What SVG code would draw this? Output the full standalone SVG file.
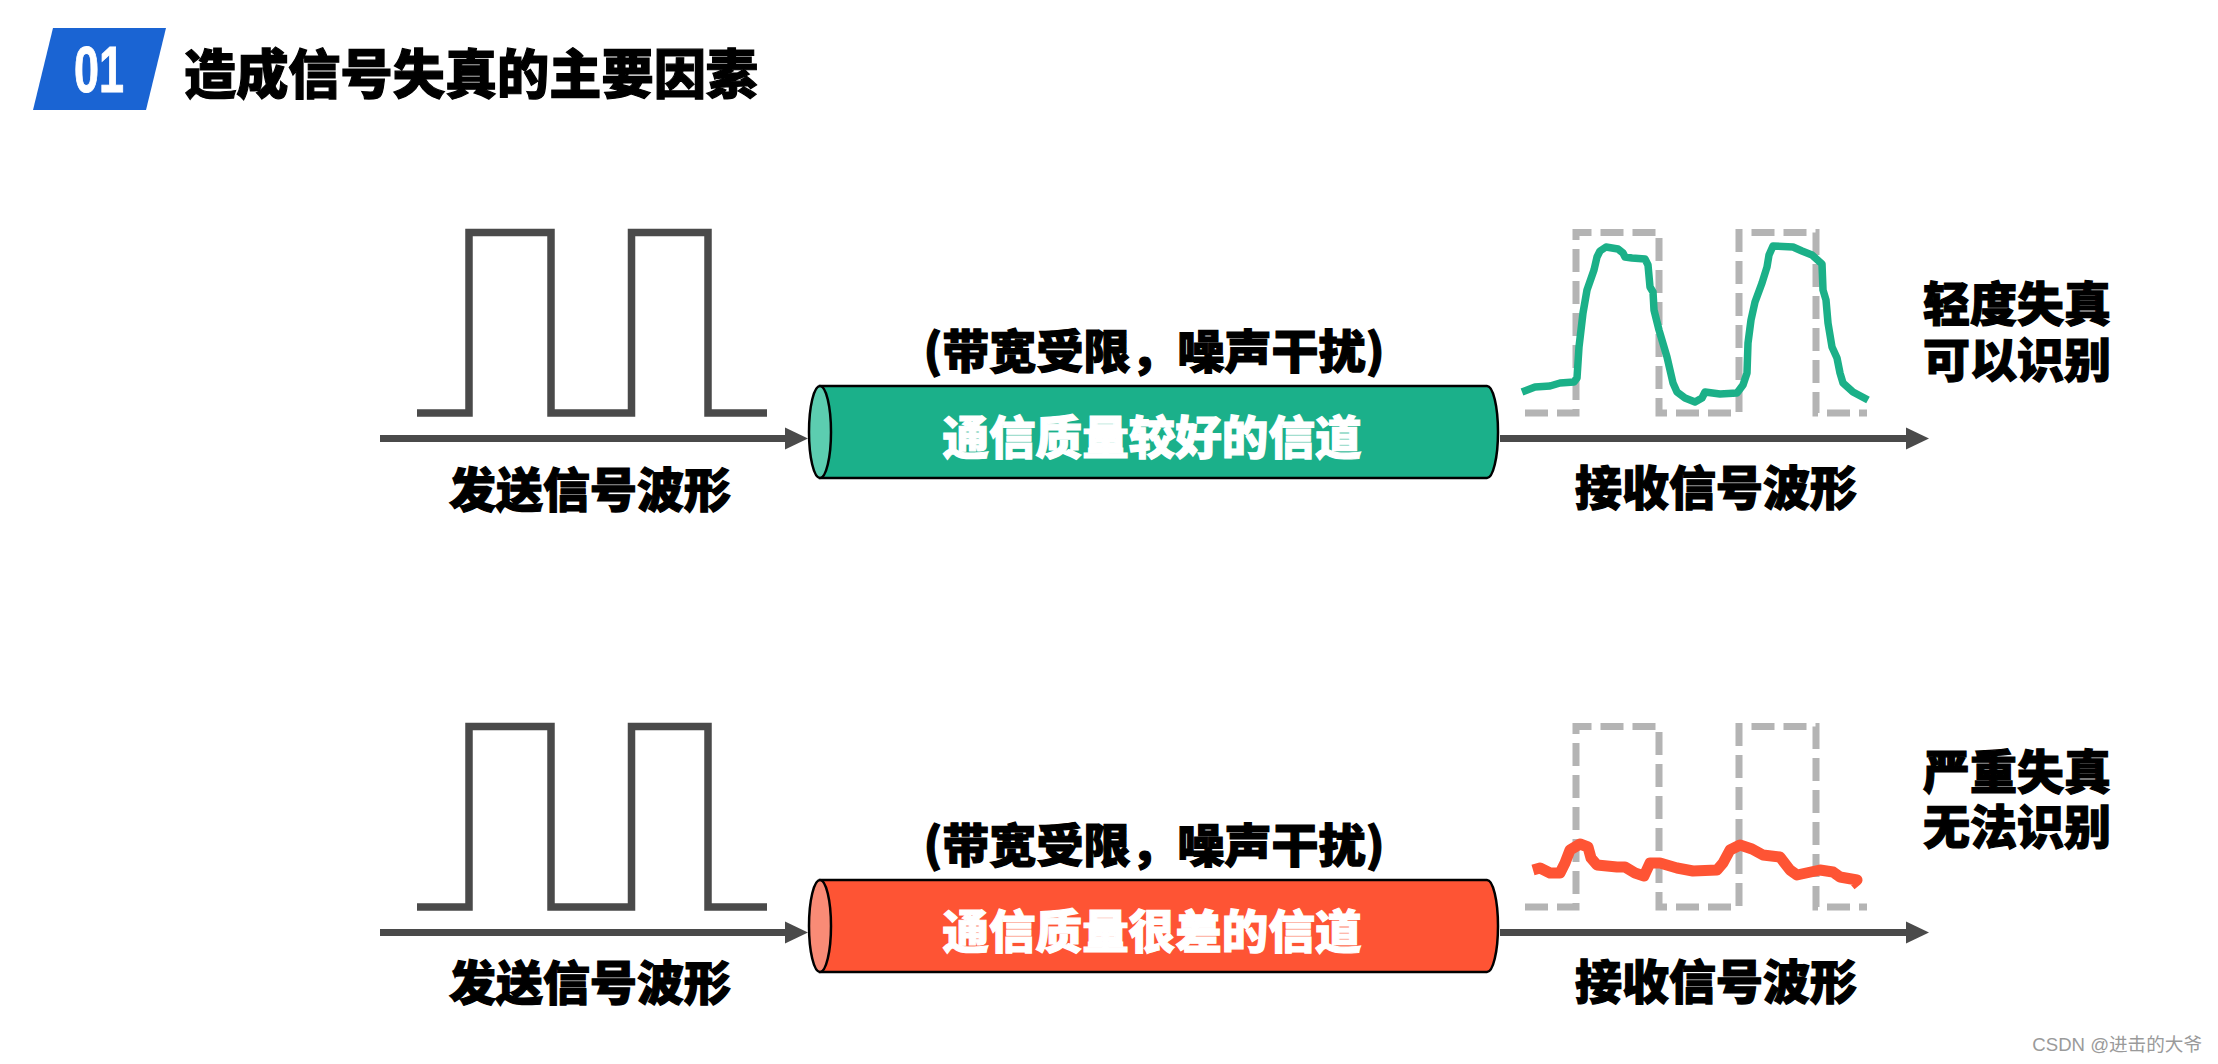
<svg xmlns="http://www.w3.org/2000/svg" width="2218" height="1064" viewBox="0 0 2218 1064">
<defs>
<style>
.t{font-family:"Noto Sans CJK SC","Noto Sans",sans-serif;font-weight:900;fill:#000;stroke:#000;stroke-width:1.2;}
.w{fill:#fff;stroke:#fff;}
.sq{fill:none;stroke:#4a4a4a;stroke-width:7.5;stroke-linejoin:miter;}
.dash{fill:none;stroke:#b4b4b4;stroke-width:7;stroke-dasharray:23 9;}
.ax{fill:none;stroke:#4a4a4a;stroke-width:7;}
.cyl{stroke:#000;stroke-width:2.5;}
</style>
<marker id="ah" markerUnits="userSpaceOnUse" markerWidth="24" markerHeight="24" refX="0" refY="12" orient="auto" viewBox="0 0 24 24">
<path d="M0,1 L23,12 L0,23 Z" fill="#4a4a4a"/>
</marker>
</defs>
<rect width="2218" height="1064" fill="#fff"/>

<g id="header">
<polygon points="53,28 166,28 146,110 33,110" fill="#1a64d3"/>
<text x="74" y="92" font-family="Liberation Sans,Arial,sans-serif" font-weight="700" font-size="64" fill="#fff" stroke="#fff" stroke-width="1" textLength="50" lengthAdjust="spacingAndGlyphs">01</text>
<text class="t" x="184" y="94" font-size="53" textLength="574" lengthAdjust="spacingAndGlyphs">造成信号失真的主要因素</text>
</g>

<g id="connectors">
<path class="ax" d="M380,438.5 H785" marker-end="url(#ah)"/>
<path class="ax" d="M1500,438.5 H1906" marker-end="url(#ah)"/>
<path class="ax" d="M380,932.5 H785" marker-end="url(#ah)"/>
<path class="ax" d="M1500,932.5 H1906" marker-end="url(#ah)"/>
</g>

<g id="tx-wave-1">
<path class="sq" d="M417,413 H469 V232.5 H551 V413 H631.5 V232.5 H708 V413 H767"/>
<text class="t" x="590" y="507" font-size="47" text-anchor="middle">发送信号波形</text>
</g>

<g id="channel-1">
<text class="t" x="1154" y="368" font-size="46" text-anchor="middle" textLength="461" lengthAdjust="spacingAndGlyphs">(带宽受限，噪声干扰)</text>
<path class="cyl" d="M820,386 H1487 A11,46 0 0 1 1487,478 H820 Z" fill="#1bb08a"/>
<ellipse class="cyl" cx="820" cy="432" rx="11" ry="46" fill="#5ccdb0"/>
<text class="t w" x="1152" y="454" font-size="46" text-anchor="middle" textLength="419" lengthAdjust="spacingAndGlyphs">通信质量较好的信道</text>
</g>

<g id="rx-wave-1">
<path class="dash" d="M1525,413 H1576 V232.5 H1659 V413 H1739 V232.5 H1816 V413 H1867"/>
<polyline fill="none" stroke="#1bb088" stroke-width="7.5" stroke-linejoin="round" stroke-linecap="butt" points="1522,392 1535,387 1550,386 1560,383 1574,382 1577,378 1579,347 1583,313 1587,290 1594,270 1597,257 1600,251 1606,247 1618,249 1623,253 1625,257 1632,258 1645,259 1648,265 1650,287 1653,292 1654,310 1659,330 1667,357 1673,383 1677,392 1685,398 1695,402 1702,398 1705,392 1720,394 1737,393 1743,385 1747,373 1748,343 1751,320 1755,302 1762,283 1767,267 1769,255 1773,246 1793,247 1802,251 1812,255 1822,264 1823,290 1826,300 1828,323 1832,347 1837,358 1840,373 1843,383 1853,392 1868,400"/>
<text class="t" x="1716" y="505" font-size="47" text-anchor="middle">接收信号波形</text>
</g>

<g id="result-1">
<text class="t" font-size="47"><tspan x="1923" y="321">轻度失真</tspan><tspan x="1923" y="377">可以识别</tspan></text>
</g>

<g id="tx-wave-2">
<path class="sq" d="M417,907 H469 V726.5 H551 V907 H631.5 V726.5 H708 V907 H767"/>
<text class="t" x="590" y="1000" font-size="47" text-anchor="middle">发送信号波形</text>
</g>

<g id="channel-2">
<text class="t" x="1154" y="862" font-size="46" text-anchor="middle" textLength="461" lengthAdjust="spacingAndGlyphs">(带宽受限，噪声干扰)</text>
<path class="cyl" d="M820,880 H1487 A11,46 0 0 1 1487,972 H820 Z" fill="#fe5434"/>
<ellipse class="cyl" cx="820" cy="926" rx="11" ry="46" fill="#f98b76"/>
<text class="t w" x="1152" y="948" font-size="46" text-anchor="middle" textLength="419" lengthAdjust="spacingAndGlyphs">通信质量很差的信道</text>
</g>

<g id="rx-wave-2">
<path class="dash" d="M1525,907 H1576 V726.5 H1659 V907 H1739 V726.5 H1816 V907 H1867"/>
<polyline fill="none" stroke="#fe5434" stroke-width="11" stroke-linejoin="round" stroke-linecap="butt" points="1533,870 1540,868 1550,873 1560,873 1565,863 1570,850 1580,844 1588,847 1591,858 1597,865 1617,867 1625,867 1635,873 1644,876 1650,863 1660,863 1677,868 1693,871 1717,870 1723,863 1730,850 1740,845 1752,849 1763,855 1780,857 1790,870 1797,875 1820,870 1833,872 1840,877 1857,880 1851,885"/>
<text class="t" x="1716" y="999" font-size="47" text-anchor="middle">接收信号波形</text>
</g>

<g id="result-2">
<text class="t" font-size="47"><tspan x="1923" y="789">严重失真</tspan><tspan x="1923" y="844">无法识别</tspan></text>
</g>

<text x="2202" y="1051" font-family="Liberation Sans,'Noto Sans CJK SC',sans-serif" font-size="18.6" fill="#9a9a9a" text-anchor="end">CSDN @进击的大爷</text>
</svg>
